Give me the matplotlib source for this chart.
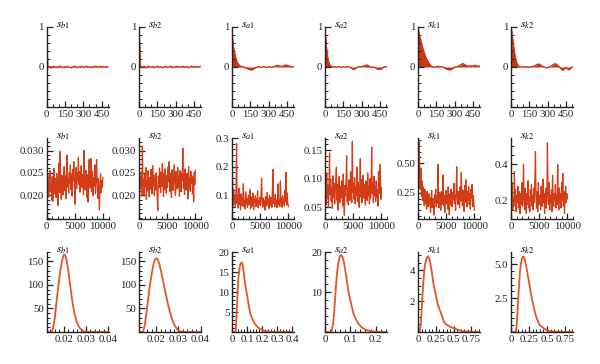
import numpy as np
import matplotlib
matplotlib.use('Agg')
import matplotlib.pyplot as plt
from matplotlib.ticker import MultipleLocator

names = ['b1', 'b2', 'a1', 'a2', 'k1', 'k2']

# --- row 1: autocorrelation against lag
lags = [0, 5] + list(range(10, 501, 10))
acf_b1 = [1.0, 0.62,
          0.03, -0.01, 0.01, -0.02, 0.0, 0.02, -0.01, 0.01, -0.02, 0.01,
          0.02, -0.01, 0.0, -0.02, 0.01, -0.01, 0.02, 0.0, -0.01, -0.02,
          0.01, -0.01, 0.02, 0.01, -0.02, 0.0, 0.01, -0.01, 0.02, 0.0,
          -0.01, 0.01, 0.02, -0.01, 0.0, 0.01, -0.02, 0.01, 0.0, 0.02,
          0.01, -0.01, 0.0, 0.02, -0.01, 0.01, 0.0, -0.01, 0.01, 0.0]
acf_b2 = [1.0, 0.62,
          0.02, 0.01, -0.01, 0.02, 0.0, -0.02, 0.01, 0.02, -0.01, 0.0,
          0.01, -0.02, 0.01, 0.0, 0.02, -0.01, 0.0, 0.01, -0.02, -0.01,
          0.02, 0.01, 0.0, -0.01, 0.01, 0.02, -0.02, 0.0, 0.01, -0.01,
          0.02, 0.0, -0.01, 0.01, 0.0, 0.02, -0.01, 0.0, 0.01, -0.02,
          0.0, 0.01, 0.02, -0.01, 0.0, 0.01, -0.01, 0.02, 0.0, 0.01]
acf_a1 = [1.0, 0.70,
          0.52, 0.38, 0.24, 0.13, 0.08, 0.04, 0.02, 0.0, 0.01, -0.01,
          -0.02, -0.03, -0.05, -0.06, -0.07, -0.07, -0.06, -0.04, -0.02, -0.01,
          0.0, 0.01, 0.0, -0.01, 0.0, 0.01, 0.0, -0.01, 0.0, 0.01,
          0.0, -0.01, 0.0, 0.01, 0.02, 0.03, 0.04, 0.03, 0.02, 0.01,
          0.02, 0.03, 0.04, 0.05, 0.04, 0.03, 0.02, 0.01, 0.0, 0.0]
acf_a2 = [1.0, 0.75,
          0.55, 0.28, 0.12, 0.05, 0.02, 0.0, 0.01, 0.0, -0.01, 0.0,
          0.01, 0.0, -0.01, 0.0, 0.01, 0.0, -0.01, 0.0, 0.01, 0.0,
          -0.02, -0.04, -0.06, -0.05, -0.03, -0.01, 0.0, 0.01, 0.0, 0.01,
          0.02, 0.03, 0.04, 0.05, 0.04, 0.02, 0.0, -0.01, 0.0, -0.01,
          -0.02, -0.04, -0.06, -0.05, -0.06, -0.04, -0.02, 0.0, 0.01, 0.0]
acf_k1 = [1.0, 0.90,
          0.82, 0.70, 0.58, 0.46, 0.36, 0.27, 0.20, 0.14, 0.09, 0.05,
          0.02, 0.0, -0.01, 0.0, 0.01, 0.02, 0.01, 0.0, 0.01, 0.0,
          -0.01, -0.03, -0.05, -0.06, -0.07, -0.07, -0.06, -0.04, -0.02, 0.0,
          0.0, 0.01, 0.02, 0.04, 0.06, 0.08, 0.08, 0.06, 0.04, 0.03,
          0.02, 0.03, 0.03, 0.02, 0.03, 0.04, 0.03, 0.03, 0.02, 0.02]
acf_k2 = [1.0, 0.92,
          0.80, 0.55, 0.33, 0.17, 0.08, 0.03, 0.0, -0.01, 0.0, 0.01,
          0.0, 0.01, 0.0, -0.01, 0.0, 0.01, 0.0, 0.01, 0.02, 0.04,
          0.06, 0.07, 0.07, 0.05, 0.03, 0.01, 0.0, -0.01, -0.02, -0.01,
          0.0, 0.01, 0.03, 0.05, 0.07, 0.08, 0.07, 0.04, 0.01, -0.02,
          -0.05, -0.08, -0.06, -0.03, -0.02, -0.05, -0.07, -0.05, -0.02, 0.0]

# --- row 2: traces (thinned draws over 10000 iterations)
tr_b1 = [0.0235, 0.0212, 0.0248, 0.0221, 0.0196, 0.0230, 0.0255, 0.0208, 0.0227, 0.0190,
         0.0242, 0.0186, 0.0226, 0.0260, 0.0203, 0.0238, 0.0218, 0.0195, 0.0249, 0.0214,
         0.0177, 0.0232, 0.0272, 0.0206, 0.0298, 0.0221, 0.0191, 0.0245, 0.0228, 0.0201,
         0.0236, 0.0264, 0.0210, 0.0243, 0.0192, 0.0255, 0.0290, 0.0219, 0.0237, 0.0205,
         0.0251, 0.0226, 0.0268, 0.0213, 0.0247, 0.0198, 0.0258, 0.0232, 0.0275, 0.0220,
         0.0180, 0.0244, 0.0262, 0.0215, 0.0250, 0.0234, 0.0285, 0.0224, 0.0253, 0.0207,
         0.0240, 0.0266, 0.0218, 0.0246, 0.0229, 0.0202, 0.0300, 0.0238, 0.0212, 0.0256,
         0.0223, 0.0195, 0.0247, 0.0185, 0.0234, 0.0280, 0.0216, 0.0242, 0.0282, 0.0209,
         0.0231, 0.0254, 0.0199, 0.0239, 0.0221, 0.0268, 0.0204, 0.0246, 0.0280, 0.0226,
         0.0193, 0.0237, 0.0212, 0.0167, 0.0229, 0.0248, 0.0205, 0.0233, 0.0218, 0.0240]
tr_b2 = [0.0228, 0.0205, 0.0241, 0.0215, 0.0252, 0.0198, 0.0310, 0.0222, 0.0236, 0.0201,
         0.0247, 0.0219, 0.0262, 0.0190, 0.0233, 0.0210, 0.0255, 0.0226, 0.0196, 0.0240,
         0.0214, 0.0258, 0.0230, 0.0203, 0.0266, 0.0221, 0.0245, 0.0199, 0.0237, 0.0212,
         0.0250, 0.0224, 0.0193, 0.0166, 0.0243, 0.0217, 0.0261, 0.0229, 0.0206, 0.0252,
         0.0220, 0.0271, 0.0235, 0.0197, 0.0248, 0.0213, 0.0259, 0.0227, 0.0204, 0.0244,
         0.0218, 0.0263, 0.0231, 0.0275, 0.0209, 0.0249, 0.0222, 0.0195, 0.0257, 0.0234,
         0.0211, 0.0246, 0.0268, 0.0225, 0.0200, 0.0253, 0.0230, 0.0214, 0.0262, 0.0219,
         0.0242, 0.0198, 0.0255, 0.0227, 0.0208, 0.0250, 0.0233, 0.0305, 0.0216, 0.0245,
         0.0202, 0.0259, 0.0228, 0.0212, 0.0249, 0.0236, 0.0192, 0.0264, 0.0221, 0.0240,
         0.0209, 0.0254, 0.0226, 0.0243, 0.0203, 0.0238, 0.0185, 0.0251, 0.0224, 0.0256]
tr_a1 = [0.085, 0.148, 0.062, 0.120, 0.070, 0.095, 0.058, 0.110, 0.280, 0.072,
         0.092, 0.055, 0.125, 0.068, 0.088, 0.050, 0.105, 0.076, 0.063, 0.098,
         0.140, 0.060, 0.082, 0.052, 0.112, 0.070, 0.090, 0.058, 0.078, 0.100,
         0.066, 0.086, 0.120, 0.054, 0.094, 0.072, 0.062, 0.108, 0.050, 0.084,
         0.074, 0.098, 0.060, 0.088, 0.068, 0.115, 0.056, 0.080, 0.070, 0.092,
         0.064, 0.104, 0.160, 0.074, 0.058, 0.090, 0.066, 0.082, 0.048, 0.096,
         0.078, 0.062, 0.110, 0.070, 0.086, 0.054, 0.100, 0.074, 0.064, 0.092,
         0.058, 0.120, 0.190, 0.072, 0.088, 0.060, 0.102, 0.068, 0.082, 0.056,
         0.094, 0.140, 0.066, 0.080, 0.060, 0.150, 0.074, 0.090, 0.058, 0.098,
         0.070, 0.086, 0.062, 0.118, 0.078, 0.180, 0.066, 0.108, 0.072, 0.060]
tr_a2 = [0.070, 0.095, 0.055, 0.110, 0.065, 0.088, 0.050, 0.082, 0.145, 0.072,
         0.098, 0.060, 0.085, 0.048, 0.105, 0.068, 0.092, 0.056, 0.078, 0.100,
         0.120, 0.062, 0.090, 0.045, 0.080, 0.104, 0.058, 0.086, 0.066, 0.096,
         0.074, 0.052, 0.108, 0.064, 0.036, 0.088, 0.070, 0.100, 0.140, 0.060,
         0.084, 0.054, 0.098, 0.072, 0.062, 0.112, 0.080, 0.058, 0.165, 0.076,
         0.092, 0.064, 0.102, 0.056, 0.086, 0.070, 0.120, 0.060, 0.094, 0.074,
         0.050, 0.088, 0.135, 0.068, 0.098, 0.058, 0.082, 0.106, 0.066, 0.090,
         0.072, 0.054, 0.096, 0.080, 0.062, 0.110, 0.070, 0.088, 0.056, 0.100,
         0.066, 0.084, 0.155, 0.074, 0.092, 0.058, 0.104, 0.070, 0.086, 0.060,
         0.096, 0.068, 0.080, 0.052, 0.112, 0.074, 0.090, 0.125, 0.064, 0.084]
tr_k1 = [0.500, 0.300, 0.680, 0.420, 0.280, 0.460, 0.220, 0.350, 0.180, 0.300,
         0.240, 0.140, 0.280, 0.160, 0.220, 0.110, 0.260, 0.180, 0.130, 0.240,
         0.150, 0.210, 0.080, 0.190, 0.270, 0.120, 0.200, 0.160, 0.060, 0.230,
         0.170, 0.280, 0.130, 0.220, 0.160, 0.490, 0.200, 0.120, 0.250, 0.180,
         0.100, 0.260, 0.150, 0.210, 0.400, 0.140, 0.230, 0.080, 0.190, 0.270,
         0.160, 0.220, 0.110, 0.300, 0.180, 0.060, 0.240, 0.150, 0.280, 0.200,
         0.130, 0.250, 0.190, 0.330, 0.160, 0.230, 0.100, 0.280, 0.470, 0.200,
         0.150, 0.260, 0.210, 0.120, 0.300, 0.180, 0.420, 0.240, 0.140, 0.270,
         0.200, 0.090, 0.310, 0.170, 0.360, 0.220, 0.130, 0.260, 0.190, 0.300,
         0.150, 0.240, 0.110, 0.280, 0.200, 0.320, 0.130, 0.230, 0.170, 0.100]
tr_k2 = [0.250, 0.180, 0.300, 0.150, 0.220, 0.170, 0.360, 0.200, 0.260, 0.140,
         0.230, 0.190, 0.280, 0.160, 0.210, 0.250, 0.130, 0.240, 0.180, 0.300,
         0.170, 0.220, 0.400, 0.190, 0.150, 0.270, 0.200, 0.130, 0.240, 0.180,
         0.310, 0.160, 0.220, 0.140, 0.260, 0.200, 0.290, 0.170, 0.230, 0.150,
         0.270, 0.190, 0.340, 0.470, 0.210, 0.160, 0.250, 0.140, 0.300, 0.200,
         0.180, 0.230, 0.150, 0.280, 0.210, 0.170, 0.320, 0.190, 0.240, 0.130,
         0.220, 0.270, 0.160, 0.200, 0.520, 0.250, 0.180, 0.300, 0.150, 0.230,
         0.190, 0.260, 0.140, 0.340, 0.210, 0.170, 0.240, 0.200, 0.290, 0.160,
         0.230, 0.180, 0.400, 0.220, 0.150, 0.270, 0.190, 0.240, 0.160, 0.300,
         0.200, 0.350, 0.170, 0.250, 0.130, 0.220, 0.280, 0.190, 0.240, 0.210]

# --- row 3: posterior densities
dx_b1 = [0.0125, 0.0145, 0.0152, 0.0160, 0.0167, 0.0175, 0.0182, 0.0190, 0.0197, 0.0202,
         0.0208, 0.0214, 0.0221, 0.0228, 0.0235, 0.0242, 0.0250, 0.0258, 0.0266, 0.0275,
         0.0285, 0.0295, 0.0310, 0.0340, 0.0400]
dy_b1 = [0, 0, 8, 32, 64, 95, 122, 146, 160, 165,
         161, 150, 128, 103, 78, 55, 36, 22, 13, 7,
         3, 1.2, 0.3, 0, 0]
dx_b2 = [0.0125, 0.0140, 0.0148, 0.0156, 0.0164, 0.0171, 0.0179, 0.0186, 0.0193, 0.0200,
         0.0207, 0.0214, 0.0222, 0.0230, 0.0238, 0.0246, 0.0254, 0.0262, 0.0270, 0.0278,
         0.0288, 0.0298, 0.0310, 0.0340, 0.0400]
dy_b2 = [0, 0, 14, 43, 72, 99, 122, 141, 153, 157,
         154, 144, 128, 110, 91, 74, 57, 42, 29, 19,
         10, 4, 1, 0, 0]
dx_a1 = [0, 0.020, 0.025, 0.031, 0.037, 0.042, 0.048, 0.053, 0.059, 0.065, 0.071, 0.076, 0.083,
         0.090, 0.100, 0.110, 0.120, 0.132, 0.143, 0.160, 0.177, 0.200, 0.220, 0.260, 0.300, 0.400]
dy_a1 = [0, 0, 0.4, 5, 10, 13.4, 15.4, 16.6, 17.2, 17.4, 16.8, 15.3, 13.2,
         11.2, 9.2, 6.8, 4.7, 3.5, 2.6, 1.6, 1.0, 0.5, 0.2, 0.05, 0, 0]
dx_a2 = [0, 0.022, 0.027, 0.032, 0.036, 0.040, 0.044, 0.048, 0.052, 0.057, 0.063, 0.068, 0.073,
         0.080, 0.087, 0.093, 0.100, 0.107, 0.113, 0.123, 0.133, 0.146, 0.160, 0.180, 0.200, 0.245]
dy_a2 = [0, 0, 0.3, 2.2, 4.8, 8.5, 12.1, 15.0, 17.0, 18.6, 19.3, 18.9, 18.0,
         15.5, 12.5, 10.0, 8.0, 6.0, 4.5, 3.1, 2.0, 1.1, 0.6, 0.2, 0.05, 0]
dx_k1 = [0, 0.020, 0.030, 0.040, 0.050, 0.062, 0.075, 0.088, 0.100, 0.120, 0.140, 0.158, 0.175, 0.200,
         0.225, 0.250, 0.275, 0.300, 0.325, 0.350, 0.375, 0.410, 0.450, 0.525, 0.625, 0.750, 0.870]
dy_k1 = [0, 0, 0.1, 0.6, 1.3, 2.3, 3.25, 3.95, 4.43, 4.8, 4.92, 4.8, 4.43, 3.7,
         2.9, 2.4, 1.85, 1.5, 1.2, 0.85, 0.56, 0.45, 0.34, 0.2, 0.06, 0.01, 0]
dx_k2 = [0, 0.060, 0.071, 0.080, 0.090, 0.103, 0.115, 0.125, 0.136, 0.147, 0.158, 0.170, 0.181, 0.192,
         0.215, 0.237, 0.260, 0.281, 0.304, 0.326, 0.348, 0.370, 0.400, 0.440, 0.480, 0.527, 0.600, 0.860]
dy_k2 = [0, 0, 0.1, 0.6, 1.5, 2.7, 3.7, 4.45, 5.0, 5.3, 5.5, 5.57, 5.5, 5.3,
         4.75, 4.07, 3.35, 2.7, 2.1, 1.6, 1.15, 0.83, 0.5, 0.33, 0.18, 0.08, 0.02, 0]

acfs = [acf_b1, acf_b2, acf_a1, acf_a2, acf_k1, acf_k2]
traces = [tr_b1, tr_b2, tr_a1, tr_a2, tr_k1, tr_k2]
dens = [(dx_b1, dy_b1), (dx_b2, dy_b2), (dx_a1, dy_a1), (dx_a2, dy_a2), (dx_k1, dy_k1), (dx_k2, dy_k2)]

# axis settings per column
tr_ylim = [(0.0147, 0.0328), (0.0147, 0.0328), (0.017, 0.30), (0.0295, 0.171), (0.026, 0.715), (0.10, 0.545)]
tr_yt = [[0.020, 0.025, 0.030], [0.020, 0.025, 0.030], [0.1, 0.2, 0.3], [0.05, 0.10, 0.15], [0.25, 0.50], [0.2, 0.4]]
tr_ylab = [['0.020', '0.025', '0.030']] * 2 + [['0.1', '0.2', '0.3'], ['0.05', '0.10', '0.15'], ['0.25', '0.50'], ['0.2', '0.4']]
tr_ymin = [0.001, 0.001, 0.02, 0.01, 0.05, 0.05]

d_xlim = [(0.0122, 0.0402), (0.0122, 0.0402), (0, 0.41), (0, 0.245), (0, 0.87), (0, 0.86)]
d_ylim = [(0, 170), (0, 170), (0, 20), (0, 20), (0, 5.2), (0, 5.9)]
d_xt = [[0.02, 0.03, 0.04]] * 2 + [[0, 0.1, 0.2, 0.3, 0.4], [0, 0.1, 0.2], [0, 0.25, 0.5, 0.75], [0, 0.25, 0.5, 0.75]]
d_xlab = [['0.02', '0.03', '0.04']] * 2 + [['0', '0.1', '0.2', '0.3', '0.4'], ['0', '0.1', '0.2'],
                                          ['0', '0.25', '0.5', '0.75'], ['0', '0.25', '0.5', '0.75']]
d_xmin = [0.002, 0.002, 0.02, 0.02, 0.05, 0.05]
d_yt = [[50, 100, 150], [50, 100, 150], [5, 10, 15, 20], [10, 20], [2, 4], [2.5, 5.0]]
d_ylab = [['50', '100', '150']] * 2 + [['5', '10', '15', '20'], ['10', '20'], ['2', '4'], ['2.5', '5.0']]
d_ymin = [10, 10, 1, 2, 0.5, 0.5]

plt.rcParams['font.family'] = 'Liberation Serif'
plt.rcParams['mathtext.fontset'] = 'stix'

fig = plt.figure(figsize=(6, 3.64), dpi=100)
W, H = 600, 364
col_left = [46.5, 139, 232, 325, 418, 511]
row_top = [27, 138, 252]
row_h = [80, 81, 80]

acf_col = '#cc3514'
tr_col = '#d23c17'
d_col = '#e2562a'


def make_ax(c, r):
    ax = fig.add_axes([col_left[c] / W, 1 - (row_top[r] + row_h[r]) / H, 62 / W, row_h[r] / H])
    ax.spines['top'].set_visible(False)
    ax.spines['right'].set_visible(False)
    ax.spines['left'].set_linewidth(1.0)
    ax.spines['bottom'].set_linewidth(1.0)
    ax.spines['left'].set_color('#222222')
    ax.spines['bottom'].set_color('#222222')
    ax.tick_params(which='both', direction='in', labelsize=7.8, pad=2, top=False, right=False,
                   color='#222222', labelcolor='#222222')
    ax.tick_params(which='major', length=4, width=0.9)
    ax.tick_params(which='minor', length=2.2, width=0.7)
    ax.text(0.15, 1.03, '$s_{' + names[c] + '}$', transform=ax.transAxes,
            fontsize=8.5, ha='left', va='center')
    return ax


iters = np.linspace(0, 10000, 100)

for c in range(6):
    # autocorrelation
    ax = make_ax(c, 0)
    ax.fill_between(lags, acfs[c], 0, color=acf_col, lw=0)
    ax.plot(lags, acfs[c], color=acf_col, lw=1.0)
    ax.set_xlim(0, 505)
    ax.set_ylim(-1, 1)
    ax.set_xticks([0, 150, 300, 450])
    ax.xaxis.set_minor_locator(MultipleLocator(50))
    ax.set_yticks([0, 1])
    ax.set_yticklabels(['0', '1'])
    ax.yaxis.set_minor_locator(MultipleLocator(0.2))

    # trace
    ax = make_ax(c, 1)
    ax.plot(iters, traces[c], color=tr_col, lw=0.9)
    ax.set_xlim(0, 11000)
    ax.set_ylim(*tr_ylim[c])
    ax.set_xticks([0, 5000, 10000])
    ax.xaxis.set_minor_locator(MultipleLocator(1000))
    ax.set_yticks(tr_yt[c])
    ax.set_yticklabels(tr_ylab[c])
    ax.yaxis.set_minor_locator(MultipleLocator(tr_ymin[c]))

    # density
    ax = make_ax(c, 2)
    ax.plot(dens[c][0], dens[c][1], color=d_col, lw=1.3)
    ax.set_xlim(*d_xlim[c])
    ax.set_ylim(*d_ylim[c])
    ax.set_xticks(d_xt[c])
    ax.set_xticklabels(d_xlab[c])
    ax.xaxis.set_minor_locator(MultipleLocator(d_xmin[c]))
    ax.set_yticks(d_yt[c])
    ax.set_yticklabels(d_ylab[c])
    ax.yaxis.set_minor_locator(MultipleLocator(d_ymin[c]))

fig.savefig('out.png', dpi=100)
